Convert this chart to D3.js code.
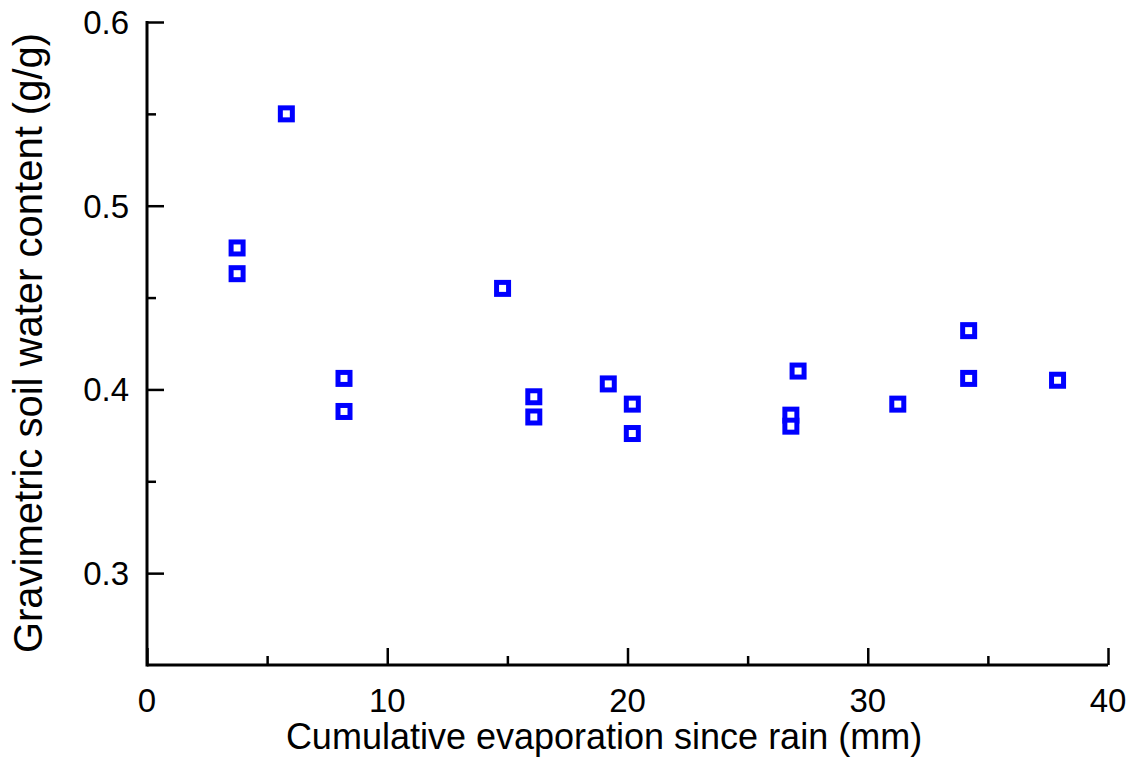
<!DOCTYPE html>
<html>
<head>
<meta charset="utf-8">
<script src="https://cdn.jsdelivr.net/npm/d3@7"></script>
<style>
  body { margin: 0; background: #fff; }
  text { font-family: "Liberation Sans", Arial, sans-serif; fill: #000; }
</style>
</head>
<body>
<div id="chart"></div>
<script>
// chart size and plot margins
const width = 1136;
const height = 762;
const margin = {left: 147, right: 28, top: 22, bottom: 97};

// data
const evap = [3.75, 3.75, 5.8, 8.2, 8.2, 14.8, 16.1, 16.1, 19.2, 20.2, 20.2,
              26.8, 26.8, 27.1, 31.25, 34.2, 34.2, 37.9];
const water = [0.477, 0.463, 0.550, 0.406, 0.388, 0.455, 0.396, 0.385, 0.403, 0.392, 0.376,
               0.386, 0.380, 0.410, 0.392, 0.432, 0.406, 0.405];
const xTicks = [0, 10, 20, 30, 40];
const xMinor = [5, 15, 25, 35];
const yTicks = [0.3, 0.4, 0.5, 0.6];
const yMinor = [0.35, 0.45, 0.55];

const points = evap.map((d, i) => ({x: d, y: water[i]}));

const svg = d3.select("#chart")
  .append("svg")
  .attr("width", width)
  .attr("height", height);

// scales
const xScale = d3.scaleLinear()
  .domain([0, 40])
  .range([margin.left, width - margin.right]);

const yScale = d3.scaleLinear()
  .domain([0.25, 0.6])
  .range([height - margin.bottom, margin.top]);

const y0 = height - margin.bottom;

// x axis, ticks point inward (up)
const xAxis = svg.append("g")
  .attr("transform", `translate(0,${y0})`)
  .call(d3.axisTop(xScale).tickValues(xTicks).tickSize(17).tickFormat(""));
xAxis.select(".domain").remove();
xAxis.selectAll("line").attr("stroke", "#000").attr("stroke-width", 2.5);

const xAxisMinor = svg.append("g")
  .attr("transform", `translate(0,${y0})`)
  .call(d3.axisTop(xScale).tickValues(xMinor).tickSize(9).tickFormat(""));
xAxisMinor.select(".domain").remove();
xAxisMinor.selectAll("line").attr("stroke", "#000").attr("stroke-width", 2.5);

// y axis, ticks point inward (right)
const yAxis = svg.append("g")
  .attr("transform", `translate(${margin.left},0)`)
  .call(d3.axisRight(yScale).tickValues(yTicks).tickSize(17).tickFormat(""));
yAxis.select(".domain").remove();
yAxis.selectAll("line").attr("stroke", "#000").attr("stroke-width", 2.5);

const yAxisMinor = svg.append("g")
  .attr("transform", `translate(${margin.left},0)`)
  .call(d3.axisRight(yScale).tickValues(yMinor).tickSize(9).tickFormat(""));
yAxisMinor.select(".domain").remove();
yAxisMinor.selectAll("line").attr("stroke", "#000").attr("stroke-width", 2.5);

// axis lines
svg.append("line")
  .attr("x1", xScale(0)).attr("x2", xScale(40))
  .attr("y1", y0).attr("y2", y0)
  .attr("stroke", "#000").attr("stroke-width", 3);
svg.append("line")
  .attr("x1", margin.left).attr("x2", margin.left)
  .attr("y1", yScale(0.6) - 1).attr("y2", y0 + 1.5)
  .attr("stroke", "#000").attr("stroke-width", 3);

// tick labels
svg.selectAll(".xlab")
  .data(xTicks)
  .enter()
  .append("text")
    .attr("class", "xlab")
    .attr("x", d => xScale(d))
    .attr("y", 712)
    .attr("text-anchor", "middle")
    .attr("font-size", "33px")
    .text(d => d);

svg.selectAll(".ylab")
  .data(yTicks)
  .enter()
  .append("text")
    .attr("class", "ylab")
    .attr("x", 129)
    .attr("y", d => yScale(d) + 12)
    .attr("text-anchor", "end")
    .attr("font-size", "33px")
    .text(d => d.toFixed(1));

// axis titles
svg.append("text")
  .attr("x", 604)
  .attr("y", 749)
  .attr("text-anchor", "middle")
  .attr("font-size", "36px")
  .text("Cumulative evaporation since rain (mm)");

svg.append("text")
  .attr("transform", `translate(42,343) rotate(-90)`)
  .attr("text-anchor", "middle")
  .attr("font-size", "40px")
  .text("Gravimetric soil water content (g/g)");

// markers: open blue squares
svg.selectAll(".pt")
  .data(points)
  .enter()
  .append("rect")
    .attr("class", "pt")
    .attr("x", d => xScale(d.x) - 6)
    .attr("y", d => yScale(d.y) - 6)
    .attr("width", 12)
    .attr("height", 12)
    .attr("fill", "#fff")
    .attr("stroke", "#0000ff")
    .attr("stroke-width", 5);
</script>
</body>
</html>
